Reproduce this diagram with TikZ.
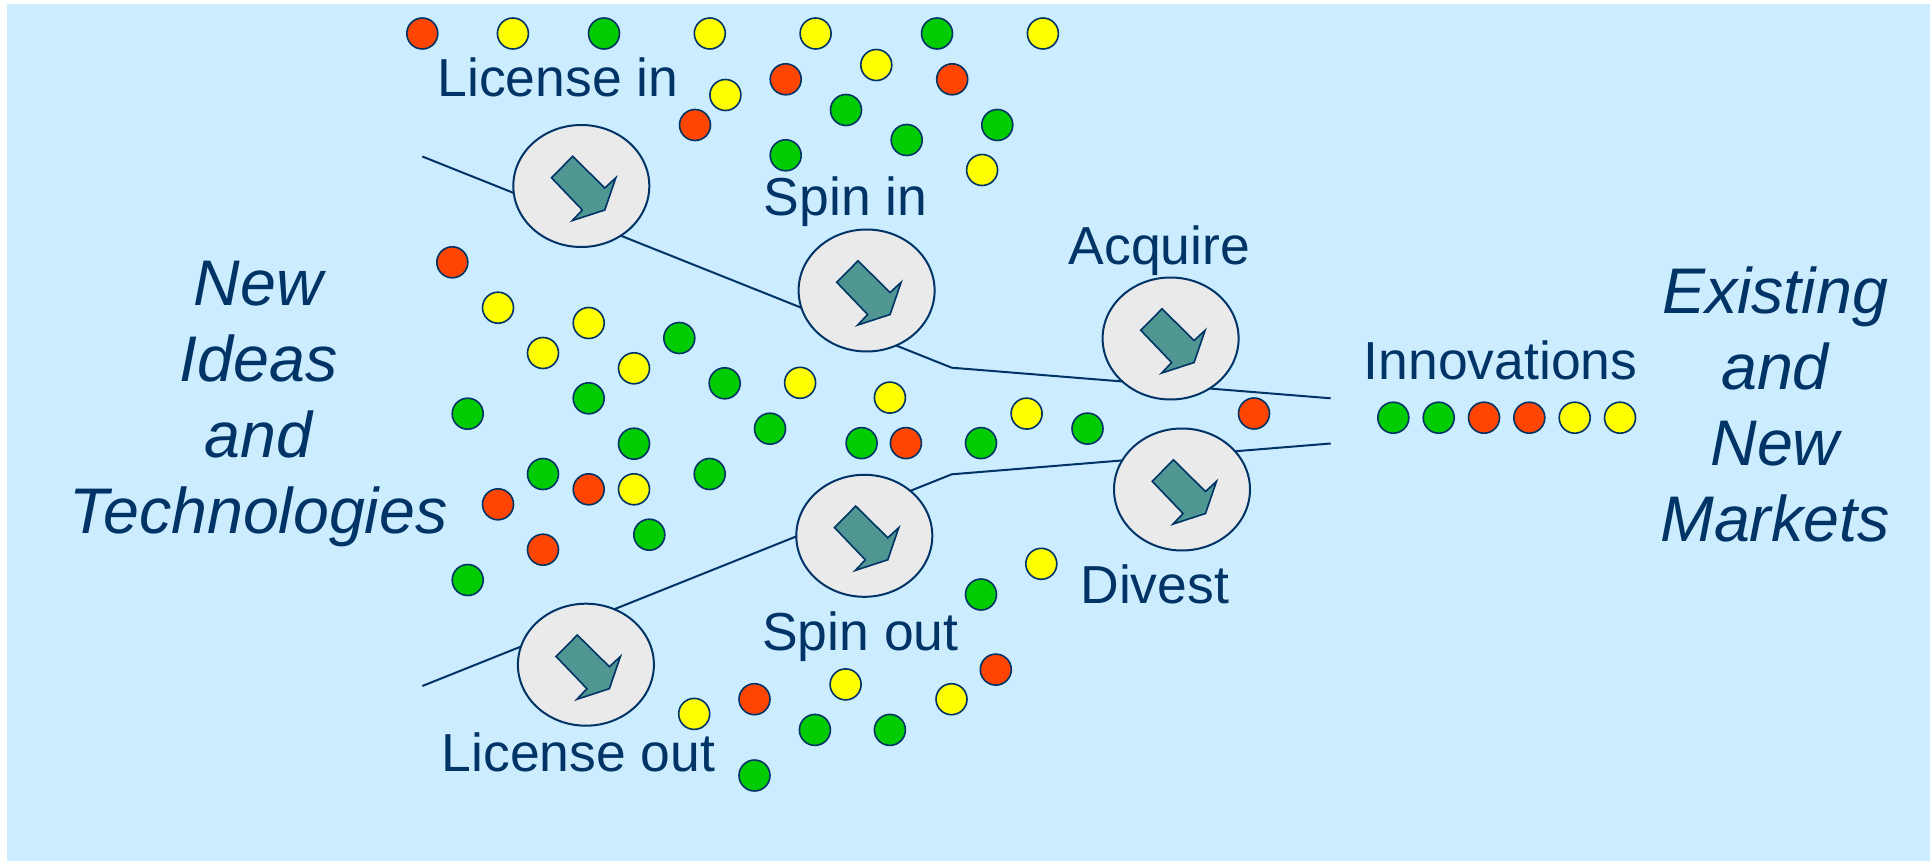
\documentclass[tikz,border=0pt]{standalone}
\usepackage{fontspec}
\setmainfont{Liberation Sans}
\usetikzlibrary{shapes.geometric}
\definecolor{navy}{RGB}{0,51,102}
\definecolor{bgblue}{RGB}{204,236,255}
\definecolor{ellfill}{RGB}{234,234,234}
\definecolor{teal2}{RGB}{80,150,146}
\definecolor{dred}{RGB}{255,69,0}
\definecolor{dyel}{RGB}{255,255,0}
\definecolor{dgrn}{RGB}{0,204,0}
\tikzset{
  dot/.style={circle,draw=navy,line width=1.6pt,minimum size=31pt,inner sep=0pt},
  R/.style={dot,fill=dred},
  Y/.style={dot,fill=dyel},
  G/.style={dot,fill=dgrn},
  stage/.style={ellipse,draw=navy,line width=2pt,fill=ellfill,minimum width=136pt,minimum height=122pt,inner sep=0pt},
  conn/.style={draw=navy,line width=2pt},
  lbl/.style={anchor=base,text=navy,font=\fontsize{53.5}{60}\selectfont,inner sep=0pt},
  big/.style={anchor=base,text=navy,font=\fontsize{64.5}{70}\selectfont\itshape,inner sep=0pt},
  turnarrow/.pic={\draw[draw=navy,line width=1.6pt,fill=teal2,line join=miter]
    (-8.6,-29.7) -- (-29.8,-8.2) -- (1,24) -- (-9,34.6) -- (23.5,24) -- (34.5,-8.2) -- (23.5,2) -- cycle;}
}
\begin{document}
\begin{tikzpicture}[x=1pt,y=-1pt]
\useasboundingbox (0,0) rectangle (1930,861);
\fill[white] (0,0) rectangle (1930,861);
\fill[bgblue] (7,4) rectangle (1930,861);

% connector way points
\coordinate (t0) at (422.3,156.5);
\coordinate (t1) at (951.7,367.7);
\coordinate (t2) at (1330.7,398.3);
\coordinate (b0) at (422.3,686);
\coordinate (b1) at (951.7,474.3);
\coordinate (b2) at (1330.7,443.5);
\draw[conn] (t0) -- (t1) -- (t2);
\draw[conn] (b0) -- (b1) -- (b2);

% stages
\node[stage] (licin) at (581.3,186) {};
\node[stage] (spinin) at (866.6,290.5) {};
\node[stage] (acq) at (1170.6,338.5) {};
\node[stage] (div) at (1182,489.5) {};
\node[stage] (spinout) at (864.3,535.8) {};
\node[stage] (licout) at (585.9,664.7) {};
\foreach \n in {licin,spinin,acq,div,spinout,licout}
  \pic at (\n.center) {turnarrow};

% labels
\node[lbl] (tlicin) at (558,96.7) {License in};
\node[lbl] (tspinin) at (845.6,216) {Spin in};
\node[lbl] (tacq) at (1159.5,264) {Acquire};
\node[lbl] (tinno) at (1500.5,379.7) {Innovations};
\node[lbl] (tdiv) at (1154.7,603) {Divest};
\node[lbl] (tspinout) at (860.4,650.5) {Spin out};
\node[lbl] (tlicout) at (578.5,771) {License out};

\node[big] (l1) at (258.5,305.6) {New};
\node[big] (l2) at (258.5,381.5) {Ideas};
\node[big] (l3) at (258.5,457.5) {and};
\node[big] (l4) at (258.5,533.4) {Technologies};
\node[big] (r1) at (1775,313) {Existing};
\node[big] (r2) at (1775,389) {and};
\node[big] (r3) at (1775,465) {New};
\node[big] (r4) at (1775,541) {Markets};

% top dots
\node[R] (a1) at (422.3,33.5) {};
\node[Y] (a2) at (512.9,33.5) {};
\node[G] (a3) at (604,33.5) {};
\node[Y] (a4) at (709.8,33.5) {};
\node[Y] (a5) at (815.6,33.5) {};
\node[G] (a6) at (937,33.5) {};
\node[Y] (a7) at (1042.9,33.5) {};
\node[Y] (a8) at (876.3,65) {};
\node[R] (a9) at (785.7,79.3) {};
\node[R] (a10) at (952.2,79.3) {};
\node[Y] (a11) at (725.4,95) {};
\node[G] (a12) at (846,110) {};
\node[R] (a13) at (695,125) {};
\node[G] (a14) at (997.3,125) {};
\node[G] (a15) at (906.7,140) {};
\node[G] (a16) at (785.7,155.3) {};
\node[Y] (a17) at (982.1,170) {};

% middle dots
\node[R] (m1) at (452.3,262.3) {};
\node[Y] (m2) at (498,307.7) {};
\node[Y] (m3) at (588.7,323) {};
\node[G] (m4) at (679.3,338) {};
\node[Y] (m5) at (543,353) {};
\node[Y] (m6) at (634,368.3) {};
\node[G] (m7) at (724.7,383.3) {};
\node[Y] (m8) at (800.1,382.8) {};
\node[G] (m9) at (588.7,398.3) {};
\node[Y] (m10) at (889.9,397.6) {};
\node[G] (m11) at (467.7,413.7) {};
\node[Y] (m12) at (1026.6,413.6) {};
\node[R] (m13) at (1254,413.5) {};
\node[G] (m14) at (770,428.7) {};
\node[G] (m15) at (1087.5,428.6) {};
\node[G] (m16) at (634,443.7) {};
\node[G] (m17) at (861.6,443.1) {};
\node[R] (m18) at (905.9,443.1) {};
\node[G] (m19) at (981,443.1) {};
\node[G] (m20) at (543,474) {};
\node[G] (m21) at (709.7,474) {};
\node[R] (m22) at (588.7,489.3) {};
\node[Y] (m23) at (634,489.3) {};
\node[R] (m24) at (498,504.3) {};
\node[G] (m25) at (649.3,534.7) {};
\node[R] (m26) at (543,549.7) {};
\node[Y] (m27) at (1041.3,563.8) {};
\node[G] (m28) at (467.7,580) {};
\node[G] (m29) at (981,594.5) {};

% bottom dots
\node[R] (c1) at (995.8,669.6) {};
\node[Y] (c2) at (845.6,684.4) {};
\node[R] (c3) at (754.5,699.2) {};
\node[Y] (c4) at (951.5,699.2) {};
\node[Y] (c5) at (694.2,713.9) {};
\node[G] (c6) at (814.9,729.9) {};
\node[G] (c7) at (889.9,729.9) {};
\node[G] (c8) at (754.5,775.5) {};

% innovations row
\node[G] (i1) at (1393.3,417.7) {};
\node[G] (i2) at (1438.7,417.7) {};
\node[R] (i3) at (1484,417.7) {};
\node[R] (i4) at (1529.3,417.7) {};
\node[Y] (i5) at (1574.7,417.7) {};
\node[Y] (i6) at (1620,417.7) {};
\end{tikzpicture}
\end{document}
